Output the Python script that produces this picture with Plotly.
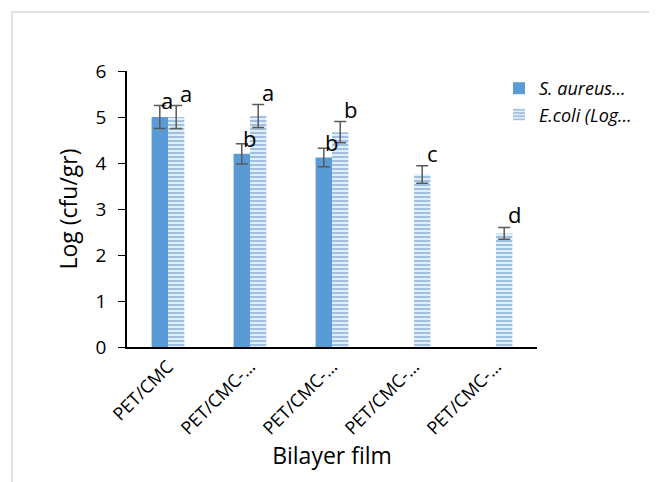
import plotly.graph_objects as go

categories = ["PET/CMC", "PET/CMC-…", "PET/CMC- …", "PET/CMC-  …", "PET/CMC-   …"]
tick_labels = ["PET/CMC", "PET/CMC-…", "PET/CMC-…", "PET/CMC-…", "PET/CMC-…"]
legend_names = ["S. aureus…", "E.coli (Log…"]
s_aureus = [5.0, 4.2, 4.12, None, None]
s_aureus_err = [0.25, 0.22, 0.2, None, None]
s_aureus_letters = ["a", "b", "b", "", ""]
e_coli = [5.0, 5.02, 4.67, 3.75, 2.47]
e_coli_err = [0.25, 0.25, 0.23, 0.19, 0.13]
e_coli_letters = ["a", "a", "b", "c", "d"]

OFF = 8  # page body margin
W, H = 657 - OFF, 482 - OFF
L, R, T, B = 127 - OFF, 537 - OFF, 71 - OFF, 347 - OFF

fig = go.Figure()
fig.add_trace(go.Bar(
    name=legend_names[0], x=categories, y=s_aureus,
    marker=dict(color="#5B9BD5", line=dict(width=0)),
    error_y=dict(type="data", array=s_aureus_err, color="#595959", thickness=1.5, width=6),
))
fig.add_trace(go.Bar(
    name=legend_names[1], x=categories, y=e_coli,
    marker=dict(color="#DDEFF9", line=dict(width=0),
                pattern=dict(shape="-", fgcolor="#6790C2", bgcolor="#DDEFF9",
                             size=4, solidity=0.5, fillmode="overlay")),
    error_y=dict(type="data", array=e_coli_err, color="#595959", thickness=1.5, width=6),
))

letter_font = dict(family="Open Sans, sans-serif", size=22, color="black")
for i, c in enumerate(categories):
    if s_aureus[i] is not None and s_aureus_letters[i]:
        fig.add_annotation(x=c, y=s_aureus[i] + s_aureus_err[i], text=s_aureus_letters[i],
                           xref="x", yref="y", showarrow=False, xshift=-1,
                           yanchor="middle", yshift=6, font=letter_font)
    if e_coli_letters[i]:
        fig.add_annotation(x=c, y=e_coli[i] + e_coli_err[i], text=e_coli_letters[i],
                           xref="x", yref="y", showarrow=False, xshift=18,
                           yanchor="middle", yshift=13, font=letter_font)

pw, ph = R - L, B - T
fig.add_shape(type="rect", xref="paper", yref="paper",
              x0=(12 - OFF - L) / pw, x1=(656 - OFF - L) / pw,
              y0=(B - 500) / ph, y1=1 + (T - (12 - OFF)) / ph,
              line=dict(color="#D9D9D9", width=1.5), fillcolor="rgba(0,0,0,0)", layer="below")

fig.update_layout(
    width=W, height=H,
    margin=dict(l=L, r=W - R, t=T, b=H - B, autoexpand=False),
    paper_bgcolor="white", plot_bgcolor="white",
    barmode="group", bargap=0.6, bargroupgap=0,
    font=dict(family="Open Sans, sans-serif", color="black"),
    showlegend=True,
    legend=dict(x=(499 - OFF - L) / pw, y=1 - (70 - OFF - T) / ph, xanchor="left", yanchor="top",
                font=dict(size=18, family="Open Sans, sans-serif", style="italic"),
                bgcolor="rgba(0,0,0,0)", itemwidth=30, tracegroupgap=0),
    xaxis=dict(tickmode="array", tickvals=categories, ticktext=tick_labels,
               tickangle=-45, tickfont=dict(size=18), showline=True, linecolor="black",
               linewidth=2, ticks="", showgrid=False,
               title=dict(text="Bilayer film", font=dict(size=23), standoff=8)),
    yaxis=dict(range=[0, 6], dtick=1, showline=True, linecolor="black", linewidth=1.5,
               ticks="outside", ticklen=7, tickcolor="black", tickfont=dict(size=19),
               ticklabelstandoff=8,
               showgrid=False, zeroline=False,
               title=dict(text="Log (cfu/gr)", font=dict(size=23), standoff=12)),
)

fig.write_html("out.html")
